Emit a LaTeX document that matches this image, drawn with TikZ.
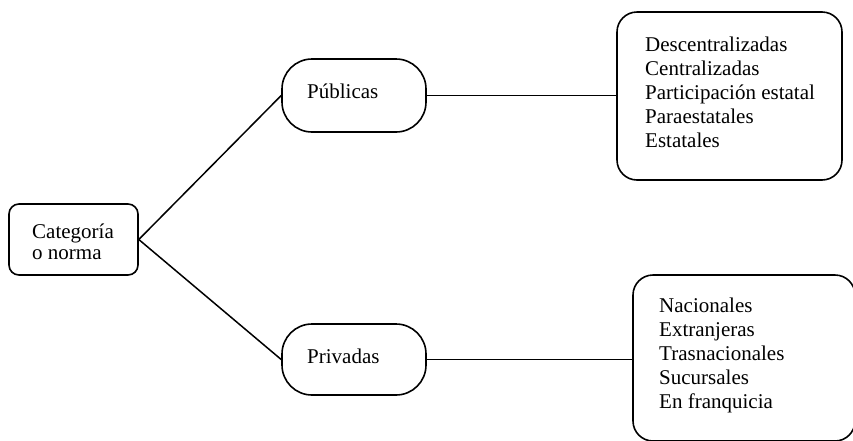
\documentclass[tikz,border=0pt]{standalone}
\usepackage{fontspec}
\setmainfont{Liberation Serif}
\begin{document}
\begin{tikzpicture}[x=1pt,y=-1pt,
  box/.style={draw,line width=1.6pt,rectangle,inner sep=0pt},
  txt/.style={anchor=base west,align=left,inner sep=0pt,font=\fontsize{21}{24}\selectfont},
  conn/.style={line width=1.5pt}]
\useasboundingbox (0,0) rectangle (853,440);
\clip (0,0) rectangle (853,440);
\node[box,rounded corners=10pt,minimum width=129pt,minimum height=71pt] (cat) at (73.5,239.5) {};
\node[box,rounded corners=30pt,minimum width=144pt,minimum height=73pt] (pub) at (354,95.5) {};
\node[box,rounded corners=30pt,minimum width=144pt,minimum height=71pt] (pri) at (354,359.5) {};
\node[box,rounded corners=20pt,minimum width=225pt,minimum height=168pt] (tr) at (729.5,96) {};
\node[box,rounded corners=20pt,minimum width=222pt,minimum height=166pt] (br) at (744,358) {};
\node[txt,font=\fontsize{21}{21}\selectfont] (catt) at (32,259) {Categoría\\o norma};
\node[txt] (pubt) at (307,98) {Públicas};
\node[txt] (prit) at (307,363) {Privadas};
\node[txt] (trt) at (645,147) {Descentralizadas\\Centralizadas\\Participación estatal\\Paraestatales\\Estatales};
\node[txt] (brt) at (659,408) {Nacionales\\Extranjeras\\Trasnacionales\\Sucursales\\En franquicia};
\draw[conn] (cat.east) -- (pub.west);
\draw[conn] (cat.east) -- (pri.west);
\draw[conn] (pub.east) -- (pub.east -| tr.west);
\draw[conn] (pri.east) -- (pri.east -| br.west);
\end{tikzpicture}
\end{document}
